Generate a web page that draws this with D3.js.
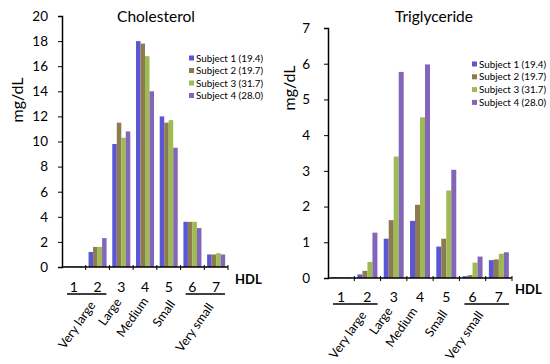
<!DOCTYPE html>
<html>
<head>
<meta charset="utf-8">
<script src="https://cdn.jsdelivr.net/npm/d3@7"></script>
<style>
  body { margin: 0; background: #fff; }
  text { font-family: Lato, "Open Sans", sans-serif; fill: #000; }
</style>
</head>
<body>
<svg id="chart" width="550" height="364"></svg>
<script>
/** categories and series */
var categories = ["1", "2", "3", "4", "5", "6", "7"];
var subjects = ["Subject 1 (19.4)", "Subject 2 (19.7)", "Subject 3 (31.7)", "Subject 4 (28.0)"];
var colors = ["#5b57d4", "#8e7a50", "#9cbb50", "#8466b8"];

/** values per subject, one per HDL class */
var cholesterol = [
    [0.05, 1.2, 9.8, 18.0, 12.0, 3.6, 1.0],
    [0.05, 1.6, 11.5, 17.8, 11.5, 3.6, 1.0],
    [0.05, 1.6, 10.3, 16.8, 11.7, 3.6, 1.1],
    [0.05, 2.3, 10.8, 14.0, 9.5, 3.1, 1.0]
];
var triglyceride = [
    [0.02, 0.1, 1.1, 1.6, 0.88, 0.05, 0.5],
    [0.02, 0.2, 1.62, 2.05, 1.1, 0.08, 0.52],
    [0.02, 0.45, 3.4, 4.5, 2.45, 0.43, 0.68],
    [0.02, 1.27, 5.77, 5.98, 3.03, 0.6, 0.72]
];

/** size class labels: [label, category index of the end] */
var classLabels = [["Very large", 1], ["Large", 2], ["Medium", 3], ["Small", 4], ["Very small", 6]];

var svg = d3.select("#chart");

function drawPanel(p) {
    var g = svg.append("g");

    var x = d3.scaleBand().domain(categories).range([p.left, p.right]).padding(0);
    var xs = d3.scaleBand().domain(d3.range(subjects.length))
        .range([x.bandwidth() * 0.12, x.bandwidth() * 0.88]);
    var y = d3.scaleLinear().domain([0, p.max]).range([p.bottom, p.top]);

    // bars
    p.data.forEach(function(series, s) {
        g.selectAll(null).data(series).enter().append("rect")
            .attr("x", function(d, i) { return x(categories[i]) + xs(s); })
            .attr("width", xs.bandwidth())
            .attr("y", function(d) { return y(d); })
            .attr("height", function(d) { return y(0) - y(d); })
            .attr("fill", colors[s]);
    });

    // y axis
    var yAxis = d3.axisLeft(y).tickValues(d3.range(0, p.max + 0.001, p.step))
        .tickFormat(d3.format("d"))
        .tickSize(4).tickPadding(p.tickPad);
    var ya = g.append("g").attr("transform", "translate(" + p.left + ",0)").call(yAxis);
    ya.select(".domain").attr("stroke", "#000").attr("stroke-width", 1.5);
    ya.selectAll("text").style("font-size", "13.5px").attr("fill", "#000");

    // x axis line with ticks on category boundaries
    g.append("line").attr("x1", p.left).attr("x2", p.right)
        .attr("y1", p.bottom).attr("y2", p.bottom)
        .attr("stroke", "#000").attr("stroke-width", 1.5);
    g.selectAll(null).data(categories).enter().append("line")
        .attr("x1", function(d) { return x(d) + x.bandwidth(); })
        .attr("x2", function(d) { return x(d) + x.bandwidth(); })
        .attr("y1", p.bottom - 2).attr("y2", p.bottom + 3)
        .attr("stroke", "#000");

    // category numbers
    g.selectAll(null).data(categories).enter().append("text")
        .attr("x", function(d) { return x(d) + x.bandwidth() / 2; })
        .attr("y", p.numY)
        .attr("text-anchor", "middle")
        .style("font-size", "14px")
        .text(function(d) { return d; });

    // group underlines (1-2, 6-7)
    [[0, 1], [5, 6]].forEach(function(r) {
        g.append("line")
            .attr("x1", x(categories[r[0]]) + 5)
            .attr("x2", x(categories[r[1]]) + x.bandwidth() - 3)
            .attr("y1", p.numY + 2).attr("y2", p.numY + 2)
            .attr("stroke", "#000").attr("stroke-width", 1.5);
    });

    // rotated class labels
    classLabels.forEach(function(c, i) {
        var cx = x(categories[c[1]]) + x.bandwidth() / 2 + p.labDx[i];
        var cy = p.labY[i];
        g.append("text")
            .attr("transform", "translate(" + cx + "," + cy + ") rotate(-55)")
            .attr("text-anchor", "end")
            .style("font-size", "12.5px")
            .text(c[0]);
    });

    // HDL
    g.append("text").attr("x", p.hdlX).attr("y", p.hdlY)
        .style("font-size", "13px").style("font-weight", "bold").text("HDL");

    // title
    g.append("text").attr("x", p.titleX).attr("y", 22)
        .attr("text-anchor", "middle").style("font-size", "15.5px").text(p.title);

    // y label
    g.append("text")
        .attr("transform", "translate(" + p.ylabX + "," + p.ylabY + ") rotate(-90)")
        .attr("text-anchor", "middle").style("font-size", "16px").text("mg/dL");

    // legend
    subjects.forEach(function(s, i) {
        var ly = p.legY + i * p.legStep;
        g.append("rect").attr("x", p.legX).attr("y", ly - 2.5)
            .attr("width", 5).attr("height", 5).attr("fill", colors[i]);
        g.append("text").attr("x", p.legX + 7).attr("y", ly + 3.5)
            .style("font-size", "9.8px").text(s);
    });
}

drawPanel({
    data: cholesterol, title: "Cholesterol", max: 20, step: 2,
    left: 62, right: 228, top: 16, bottom: 267, tickPad: 10,
    numY: 292, labDx: [-1.5, 0.7, 4, 7, -2], labY: [305, 302, 301, 304, 307],
    hdlX: 235, hdlY: 284, titleX: 156, ylabX: 23, ylabY: 100,
    legX: 189, legY: 58, legStep: 12.5
});

drawPanel({
    data: triglyceride, title: "Triglyceride", max: 7, step: 1,
    left: 328, right: 512, top: 28, bottom: 278, tickPad: 14,
    numY: 302, labDx: [-0.5, -0.7, -2, 1.7, -15], labY: [315, 311, 311, 314, 315],
    hdlX: 515, hdlY: 294, titleX: 434, ylabX: 295, ylabY: 88,
    legX: 472, legY: 64, legStep: 12.8
});
</script>
</body>
</html>
